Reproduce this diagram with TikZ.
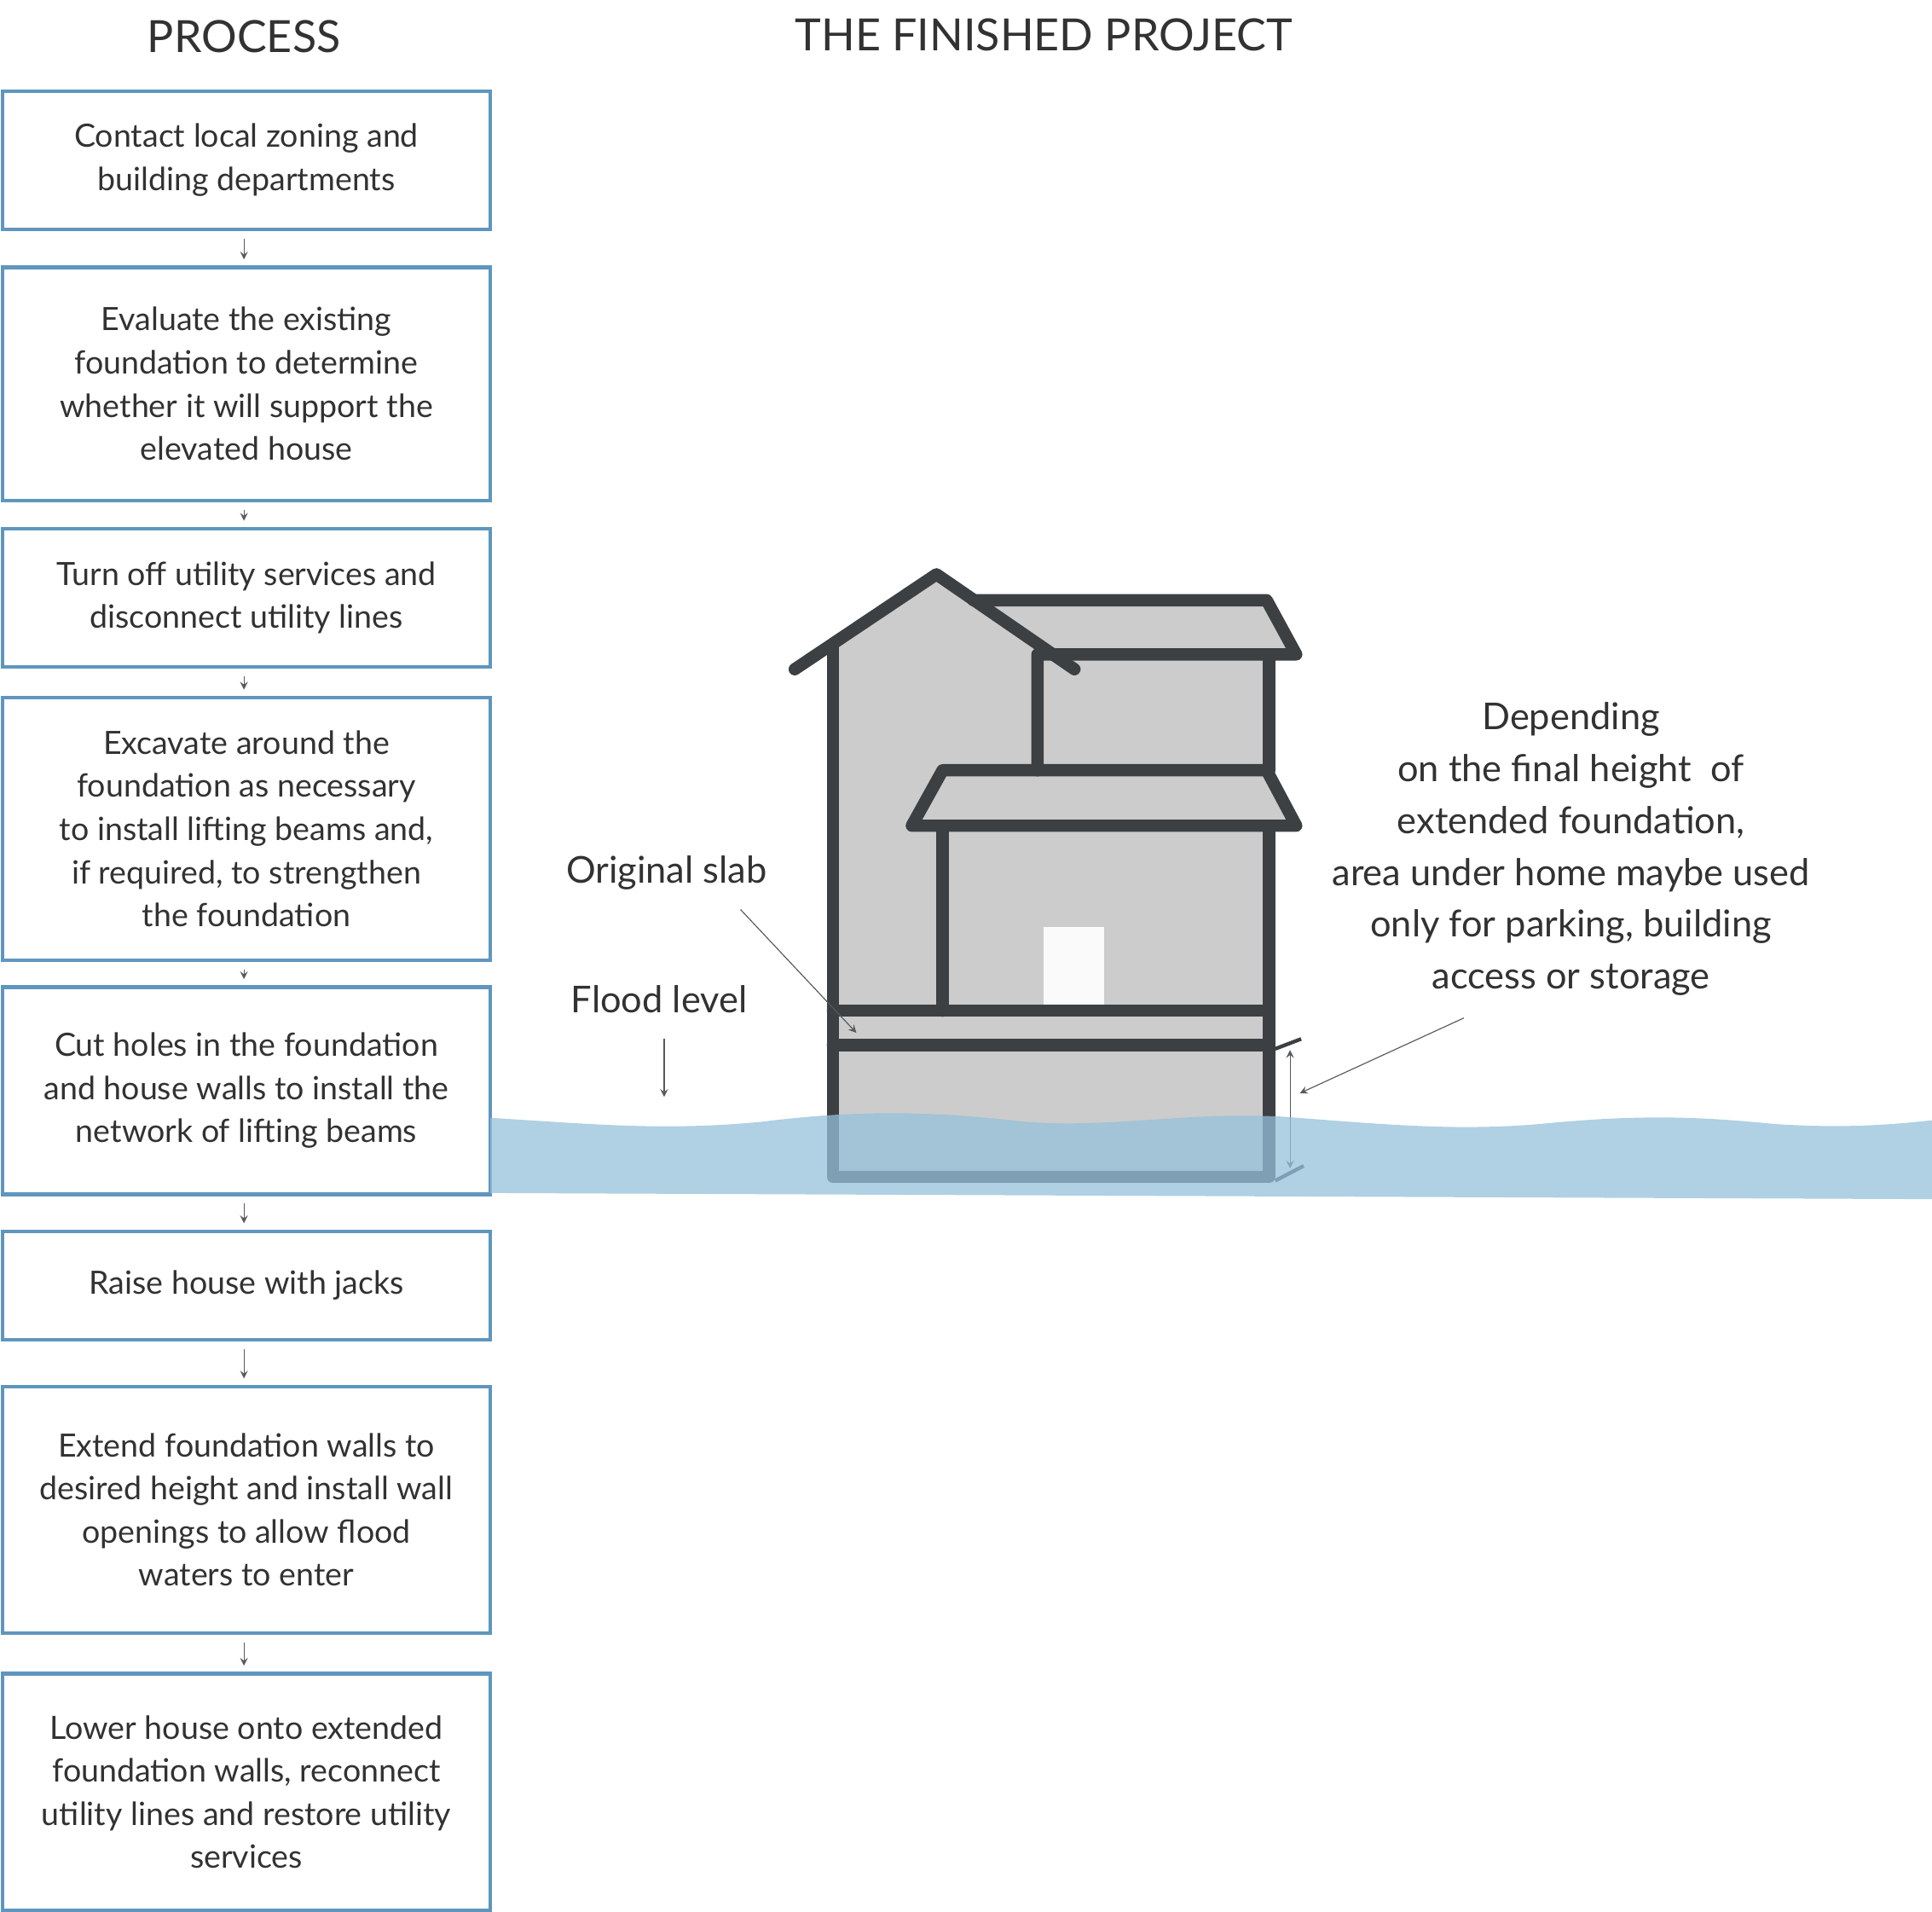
\documentclass[tikz,border=0pt]{standalone}
\usepackage{fontspec}
\setmainfont{Lato}
\definecolor{boxb}{RGB}{95,150,190}
\definecolor{dk}{RGB}{60,64,67}
\definecolor{hg}{RGB}{204,204,204}
\definecolor{wat}{RGB}{150,192,218}
\definecolor{txt}{RGB}{50,50,50}
\begin{document}
\begin{tikzpicture}[x=0.5pt,y=-0.5pt,
 stepbox/.style={draw=boxb,line width=1.5pt,minimum width=198pt,align=center,inner sep=0pt,text=txt,font=\fontsize{13}{17.5}\selectfont},
 small/.style={->,>=stealth,gray!70!black,line width=0.4pt},
 lbl/.style={text=txt,font=\fontsize{15}{21}\selectfont,align=center},
 wall/.style={draw=dk,line width=5pt,line cap=round,line join=round}]
\useasboundingbox (0,0) rectangle (1568,1551);
\node[text=txt,font=\fontsize{18}{20}\selectfont] (t1) at (198,30) {PROCESS};
\node[text=txt,font=\fontsize{18}{20}\selectfont] (t2) at (847,28) {THE FINISHED PROJECT};
\newcommand{\stepnode}[4]{\node[stepbox,minimum height={(#3-#2)*0.5pt}] (#1) at (200,{(#2+#3)/2}) {#4};}
\stepnode{b1}{74}{186}{Contact local zoning and\\building departments}
\stepnode{b2}{217}{406}{Evaluate the existing\\foundation to determine\\whether it will support the\\elevated house}
\stepnode{b3}{429}{541}{Turn off utility services and\\disconnect utility lines}
\stepnode{b4}{566}{779}{Excavate around the\\foundation as necessary\\to install lifting beams and,\\if required, to strengthen\\the foundation}
\stepnode{b5}{801}{969}{Cut holes in the foundation\\and house walls to install the\\network of lifting beams}
\stepnode{b6}{999}{1087}{Raise house with jacks}
\stepnode{b7}{1125}{1325}{Extend foundation walls to\\desired height and install wall\\openings to allow flood\\waters to enter}
\stepnode{b8}{1358}{1550}{Lower house onto extended\\foundation walls, reconnect\\utility lines and restore utility\\services}
\foreach \a/\b in {b1/b2,b2/b3,b3/b4,b4/b5,b5/b6,b6/b7,b7/b8}
 \draw[small] ([xshift=-1pt,yshift=-3pt]\a.south) -- ([xshift=-1pt,yshift=2.5pt]\b.north);
\fill[hg] (676,955) -- (676,528) -- (760,470) -- (842,520) -- (842,531) -- (848,531) -- (790,487) -- (1028,487) -- (1052,531) -- (1030,531) -- (1030,625) -- (1028,625) -- (1052,670) -- (1030,670) -- (1030,955) -- cycle;
\fill[hg] (765,625) -- (1028,625) -- (1052,670) -- (740,670) -- cycle;
\fill[white!96!gray] (847,752) rectangle (896,815);
\draw[wall] (645,543) -- (760,466) -- (872,543);
\draw[wall] (676,525) -- (676,955) -- (1030,955) -- (1030,672);
\draw[wall] (790,487) -- (1028,487) -- (1052,531) -- (842,531) -- (842,625);
\draw[wall] (1030,531) -- (1030,625);
\draw[wall] (765,625) -- (1028,625) -- (1052,670) -- (740,670) -- cycle;
\draw[wall] (765,670) -- (765,820);
\draw[wall] (676,820) -- (1030,820);
\draw[wall] (676,848) -- (1030,848);
\draw[dk,line width=1.5pt] (1035,851) -- (1056,843);
\draw[dk,line width=1.5pt] (1035,958) -- (1058,946);
\coordinate (d1) at (1047,852); \coordinate (d2) at (1047,948);
\draw[small,<->] (d1) -- (d2);
\fill[wat,fill opacity=0.75] (398,907) .. controls (480,912) and (540,918) .. (620,910) .. controls (700,900) and (760,902) .. (830,910) .. controls (900,916) and (960,902) .. (1040,906) .. controls (1120,912) and (1180,918) .. (1250,912) .. controls (1330,904) and (1380,906) .. (1440,912) .. controls (1500,916) and (1540,912) .. (1568,909) -- (1568,973) -- (398,968) -- cycle;
\node[lbl] (os) at (541,708) {Original slab};
\node[lbl] (fl) at (535,811) {Flood level};
\coordinate (osa) at (601,738); \coordinate (osb) at (695,838);
\draw[small] (osa) -- (osb);
\coordinate (fla) at (539,843); \coordinate (flb) at (539,890);
\draw[small] (fla) -- (flb);
\node[lbl] (rt) at (1275,689) {Depending\\on the final height~ of\\extended foundation,\\area under home maybe used\\only for parking, building\\access or storage};
\coordinate (ra) at (1188,826); \coordinate (rb) at (1055,887);
\draw[small] (ra) -- (rb);
\end{tikzpicture}
\end{document}
